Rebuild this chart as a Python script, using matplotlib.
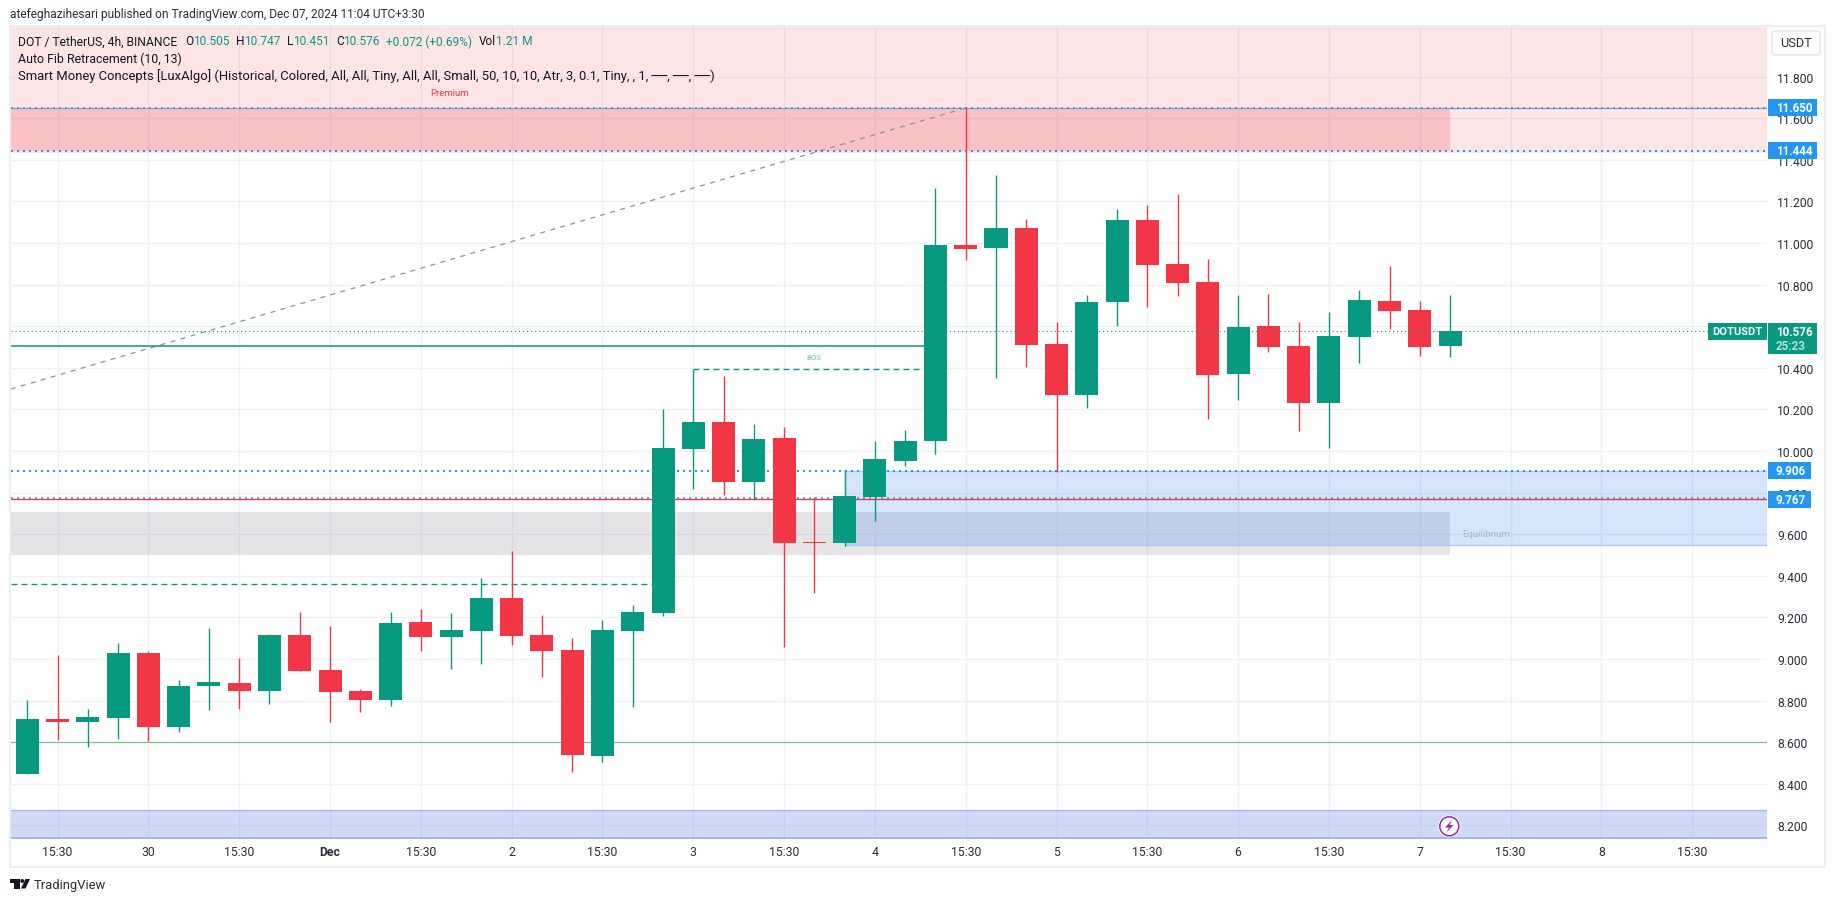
import matplotlib
matplotlib.use("Agg")
import matplotlib.pyplot as plt
from matplotlib.patches import Rectangle, FancyBboxPatch, Circle, Polygon
from matplotlib.transforms import Affine2D

W, H = 1835, 903
plt.rcParams['font.family'] = ['Roboto', 'DejaVu Sans']
plt.rcParams['lines.scale_dashes'] = False

GREEN = '#089981'
RED = '#f23645'
BLUE = '#2196f3'
INK = '#131722'

opens = [8.447, 8.711, 8.697, 8.716, 9.029, 8.673, 8.870, 8.885, 8.846, 9.115, 8.947, 8.846,
         8.803, 9.178, 9.106, 9.135, 9.293, 9.115, 9.043, 8.534, 9.135, 9.221, 10.010, 10.140,
         9.851, 10.063, 9.563, 9.558, 9.779, 9.952, 10.048, 10.991, 10.976, 11.073, 10.515, 10.270,
         10.717, 11.111, 10.899, 10.813, 10.370, 10.601, 10.505, 10.231, 10.548, 10.721, 10.678, 10.505]
highs = [8.803, 9.019, 8.760, 9.077, 9.038, 8.899, 9.149, 9.005, 9.120, 9.226, 9.159, 8.856,
         9.226, 9.240, 9.221, 9.389, 9.519, 9.212, 9.101, 9.188, 9.260, 10.202, 10.393, 10.361,
         10.130, 10.116, 9.779, 9.909, 10.048, 10.101, 11.265, 11.653, 11.327, 11.116, 10.621, 10.750,
         11.164, 11.183, 11.236, 10.923, 10.750, 10.755, 10.621, 10.669, 10.774, 10.890, 10.721, 10.750]
lows = [8.447, 8.610, 8.577, 8.615, 8.606, 8.649, 8.755, 8.760, 8.784, 8.942, 8.697, 8.745,
        8.774, 9.038, 8.952, 8.976, 9.067, 8.913, 8.457, 8.505, 8.769, 9.207, 9.818, 9.789,
        9.769, 9.058, 9.317, 9.543, 9.664, 9.928, 9.986, 10.919, 10.351, 10.404, 9.899, 10.207,
        10.601, 10.693, 10.746, 10.154, 10.245, 10.476, 10.096, 10.015, 10.423, 10.587, 10.457, 10.452]
closes = [8.711, 8.697, 8.721, 9.029, 8.673, 8.870, 8.889, 8.846, 9.115, 8.942, 8.841, 8.803,
          9.173, 9.106, 9.139, 9.293, 9.111, 9.038, 8.538, 9.139, 9.226, 10.015, 10.140, 9.851,
          10.058, 9.558, 9.558, 9.784, 9.962, 10.048, 10.991, 10.972, 11.073, 10.510, 10.270, 10.717,
          11.111, 10.895, 10.808, 10.366, 10.596, 10.500, 10.231, 10.553, 10.726, 10.673, 10.500, 10.577]

x_ticks = [1, 4, 7, 10, 13, 16, 19, 22, 25, 28, 31, 34, 37, 40, 43, 46, 49, 52, 55]
x_labels = ['15:30', '30', '15:30', 'Dec', '15:30', '2', '15:30', '3', '15:30', '4',
            '15:30', '5', '15:30', '6', '15:30', '7', '15:30', '8', '15:30']
y_ticks = [8.2, 8.4, 8.6, 8.8, 9.0, 9.2, 9.4, 9.6, 9.8, 10.0, 10.2, 10.4, 10.6, 10.8,
           11.0, 11.2, 11.4, 11.6, 11.8]

premium_zone = (11.4355, 12.0438)
supply_box = (11.444, 11.650)
demand_box = (9.547, 9.904)
grey_box = (9.500, 9.707)
discount_zone = (8.1344, 8.272)
discount_line = 8.146
fib_levels = [11.650, 11.444, 9.906, 9.767]
support = 8.6
last_price = 10.576
bos_solid = 10.504
bos_dash = 10.393
swing_dash = 9.359
fib_start = (-0.55, 10.298)
fib_end = (31, 11.650)

fig = plt.figure(figsize=(W / 100, H / 100), dpi=100, facecolor='white')
ax = fig.add_axes([10.5 / W, 1 - 840 / H, 1756.5 / W, 813 / H])
ax.set_xlim(-0.556, 57.47)
ax.set_ylim(8.1344, 12.0438)
for s in ax.spines.values():
    s.set_visible(False)
ax.set_axisbelow(True)
ax.grid(True, color='#eff1f6', lw=1.0)
ax.yaxis.tick_right()
ax.set_yticks(y_ticks)
ax.set_yticklabels([f'{v:.3f}' for v in y_ticks], fontsize=8.7, color='#2a2e39')
ax.set_xticks(x_ticks)
ax.set_xticklabels(x_labels, fontsize=8.8, color='#2a2e39')
ax.get_xticklabels()[3].set_fontweight('bold')
ax.tick_params(axis='both', length=0)
ax.tick_params(axis='y', pad=7.5)
ax.tick_params(axis='x', pad=4.5)

# zones
ax.axhspan(*premium_zone, facecolor=RED, alpha=0.13, lw=0, zorder=1)
ax.axhspan(*discount_zone, facecolor='#4a6fd8', alpha=0.25, lw=0, zorder=1)
ax.axhline(discount_zone[1], color='#a6b8ea', lw=1.0, zorder=1.2)
ax.axhspan(discount_zone[0], discount_line, facecolor='#7f9be8', alpha=0.55, lw=0, zorder=1.2)
left, right = ax.get_xlim()
box_end = 47.0
ax.add_patch(Rectangle((left, supply_box[0]), box_end - left, supply_box[1] - supply_box[0],
                       facecolor=RED, alpha=0.2, lw=0, zorder=1.1))
ax.add_patch(Rectangle((left, grey_box[0]), box_end - left, grey_box[1] - grey_box[0],
                       facecolor='#787b86', alpha=0.2, lw=0, zorder=1.1))
ax.add_patch(Rectangle((27, demand_box[0]), right - 27, demand_box[1] - demand_box[0],
                       facecolor='#3278f0', alpha=0.2, lw=0, zorder=1.2))
ax.plot([27, right, right, 27, 27],
        [demand_box[1], demand_box[1], demand_box[0], demand_box[0], demand_box[1]],
        color='#a9c7f5', lw=0.9, zorder=1.3)

# levels
ax.axhline(support, color='#7fc18c', lw=0.9, zorder=2)
ax.axhline(fib_levels[3], color=RED, lw=1.0, zorder=2)
ax.axhline(fib_levels[0], color='#8a9cc4', lw=0.9, zorder=2)
for lv in fib_levels:
    off = 0.006 if lv == fib_levels[3] else 0
    ax.axhline(lv + off, color=BLUE, lw=1.4 if lv in fib_levels[1:3] else 1.1, ls=(0, (1.44, 2.88)), zorder=2.2)
ax.plot([fib_start[0], fib_end[0]], [fib_start[1], fib_end[1]], color='#8f9198', lw=0.9,
        ls=(0, (3.6, 3.9)), zorder=2.1)
ax.plot([left, 30], [bos_solid, bos_solid], color=GREEN, lw=1.1, zorder=2.3)
ax.plot([22, 29.45], [bos_dash, bos_dash], color=GREEN, lw=1.0, ls=(0, (4.3, 2.9)), zorder=2.3)
ax.plot([left, 21], [swing_dash, swing_dash], color=GREEN, lw=1.0, ls=(0, (4.3, 2.9)), zorder=2.3)

# candles
idx = list(range(len(opens)))
cols = [GREEN if c >= o else RED for o, c in zip(opens, closes)]
ax.vlines(idx, lows, highs, colors=cols, lw=1.0, zorder=3)
ax.bar(idx, [abs(c - o) for o, c in zip(opens, closes)], bottom=[min(o, c) for o, c in zip(opens, closes)],
       width=0.76, color=cols, lw=0, zorder=3.1)

ax.plot([left, right], [last_price, last_price], color=GREEN, lw=0.8, ls=(0, (0.8, 2.1)), zorder=4)

# pixel-space overlays
px = Affine2D().scale(1, -1).translate(0, H)


def text(x, y, s, **kw):
    kw.setdefault('fontsize', 9.3)
    kw.setdefault('color', INK)
    kw.setdefault('va', 'center')
    kw.setdefault('ha', 'left')
    kw.setdefault('zorder', 12)
    return ax.text(x, y, s, transform=px, clip_on=False, **kw)


def box(x0, y0, x1, y1, color, zorder=10):
    ax.add_patch(Rectangle((x0, y0), x1 - x0, y1 - y0, transform=px, clip_on=False,
                           facecolor=color, lw=0, zorder=zorder))


# outer frame
FRAME = '#eceef2'
for b in [(9, 26, 1826, 28), (9, 867, 1826, 869), (9, 26, 10.5, 869), (1824, 26, 1826, 869)]:
    box(*b, FRAME, zorder=9)

text(10, 15, 'atefeghazihesari published on TradingView.com, Dec 07, 2024 11:04 UTC+3:30', fontsize=8.6, color='#2a2e39')
text(18, 42, 'DOT / TetherUS, 4h, BINANCE', fontsize=8.7)
for x, s, c in [(185, 'O', INK), (193, '10.505', GREEN), (236, 'H', INK), (244, '10.747', GREEN),
                (287, 'L', INK), (293, '10.451', GREEN), (336, 'C', INK), (343, '10.576', GREEN),
                (386, '+0.072 (+0.69%)', GREEN), (479, 'Vol', INK), (496, '1.21 M', GREEN)]:
    text(x, 42, s, color=c, fontsize=8.6)
text(18, 59, 'Auto Fib Retracement (10, 13)', fontsize=8.9)
text(18, 76, 'Smart Money Concepts [LuxAlgo] (Historical, Colored, All, All, Tiny, All, All, Small, '
     '50, 10, 10, Atr, 3, 0.1, Tiny, , 1, ──, ──, ──)', fontsize=9.4)
text(450, 94, 'Premium', color=RED, fontsize=6.8, ha='center')
text(813.7, 358.3, 'BOS', color='#64c0ad', fontsize=5.6, ha='center')
text(1486, 534.7, 'Equilibrium', color='#b2b5be', fontsize=6.8, ha='center')

# price labels
for y0, y1, x1, s, yt in [(100, 116.7, 1817, '11.650', 108.5), (143, 160, 1817, '11.444', 151.5),
                          (463, 480, 1811, '9.906', 471.5), (492, 508.7, 1811, '9.767', 500.5)]:
    box(1768, y0, x1, y1, BLUE)
    text(1776, yt, s, color='white', fontweight='bold', fontsize=8.4)
box(1708, 324, 1767, 341, GREEN)
box(1768, 324, 1817, 354.7, GREEN)
text(1737.5, 332.5, 'DOTUSDT', color='white', fontweight='bold', fontsize=8.0, ha='center')
text(1776, 332.7, '10.576', color='white', fontweight='bold', fontsize=8.4)
text(1776, 346.7, '25:23', color='#b5e0d8', fontweight='bold', fontsize=8.4)

ax.add_patch(FancyBboxPatch((1772, 32), 48, 24, boxstyle='round,pad=0,rounding_size=3', transform=px,
                            clip_on=False, facecolor='white', edgecolor='#e0e3eb', lw=1, zorder=10))
text(1796, 44, 'USDT', ha='center', fontsize=9.2, color='#2a2e39')

# lightning badge
ax.add_patch(Circle((1449.3, 827.3), 11, transform=px, clip_on=False, facecolor='white', lw=0, zorder=10))
ax.add_patch(Circle((1449.3, 827.3), 9.5, transform=px, clip_on=False, facecolor='white',
                    edgecolor='#9c27b0', lw=1.1, zorder=11))
ax.add_patch(Polygon([(1452, 821), (1445, 828.5), (1449, 828.5), (1446.5, 833.5), (1453.5, 826), (1449.5, 826)],
                     transform=px, clip_on=False, facecolor='#9c27b0', lw=0, zorder=12))

# TradingView logo
box(10, 880, 19.5, 884, INK)
box(14, 884, 19.5, 889.5, INK)
ax.add_patch(Circle((22.3, 882), 2, transform=px, clip_on=False, facecolor=INK, lw=0, zorder=10))
ax.add_patch(Polygon([(25.5, 880), (30, 880), (25.5, 889.5), (21, 889.5)], transform=px, clip_on=False,
                     facecolor=INK, lw=0, zorder=10))
text(33.5, 885.5, 'TradingView', fontsize=9.4, color='#2a2e39')

fig.savefig('out.png', dpi=100, facecolor='white')
